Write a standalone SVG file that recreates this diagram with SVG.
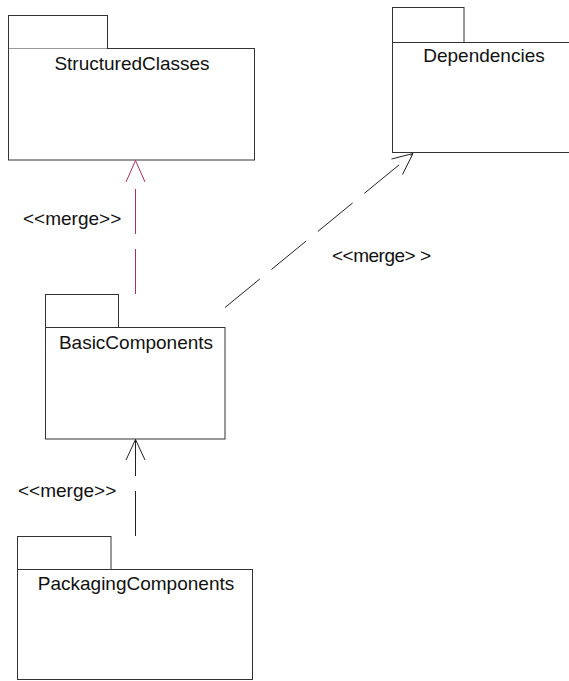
<svg xmlns="http://www.w3.org/2000/svg" width="569" height="681" viewBox="0 0 569 681">
<style>
.box{fill:#fff;stroke:#333;stroke-width:1}
.inner{stroke:#999;stroke-width:1}
.lbl{font-family:"Liberation Sans",Arial,sans-serif;font-size:19px;fill:#111}
.c{text-anchor:middle}
.dep{fill:none;stroke:#222;stroke-width:1;stroke-dasharray:45 15}
.red{stroke:#b03059}
</style>
<rect width="569" height="681" fill="#fff"/>
<g id="StructuredClasses">
<rect class="box" x="8.5" y="15.5" width="99" height="33"/>
<rect class="box" x="8.5" y="48.5" width="246" height="111.5"/>
<line class="inner" x1="9" y1="48.5" x2="107" y2="48.5"/>
<text class="lbl c" x="132" y="70">StructuredClasses</text>
</g>
<g id="Dependencies">
<rect class="box" x="392.5" y="7.5" width="71.5" height="35"/>
<rect class="box" x="392.5" y="42.5" width="190" height="110"/>
<text class="lbl c" x="484" y="62">Dependencies</text>
</g>
<g id="BasicComponents">
<rect class="box" x="45.5" y="294.5" width="73" height="33"/>
<rect class="box" x="45.5" y="327.5" width="179.5" height="111.5"/>
<text class="lbl c" x="136" y="349">BasicComponents</text>
</g>
<g id="PackagingComponents">
<rect class="box" x="17.5" y="536.5" width="93.5" height="33"/>
<rect class="box" x="17.5" y="569.5" width="235" height="110"/>
<text class="lbl c" x="136" y="590">PackagingComponents</text>
</g>
<g id="connectors">
<line class="dep red" x1="135.5" y1="294" x2="135.5" y2="187"/>
<polyline fill="none" stroke="#b03059" stroke-width="1" points="126,182 135.5,160.5 145,182"/>
<line class="dep" x1="225" y1="307.5" x2="413" y2="153.5"/>
<polyline fill="none" stroke="#222" stroke-width="1" points="391.5,159 413,153.5 402.5,174.5"/>
<line class="dep" x1="135.5" y1="536" x2="135.5" y2="439.5"/>
<polyline fill="none" stroke="#222" stroke-width="1" points="126,460 135.5,439.5 145,460"/>
</g>
<g id="labels">
<text class="lbl" x="23" y="225">&lt;&lt;merge&gt;&gt;</text>
<text class="lbl" x="332" y="262" textLength="99" lengthAdjust="spacing">&lt;&lt;merge&gt; &gt;</text>
<text class="lbl" x="18" y="497">&lt;&lt;merge&gt;&gt;</text>
</g>
</svg>
